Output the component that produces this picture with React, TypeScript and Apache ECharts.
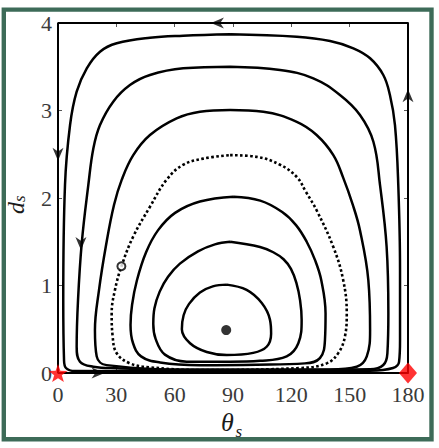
import React, { useEffect, useRef } from "react";
import * as echarts from "echarts";

// axis ticks
const xTicks = [0, 30, 60, 90, 120, 150, 180];
const yTicks = [0, 1, 2, 3, 4];

// heteroclinic boundary (rectangle)
const boundary = [[0, 0], [0, 4], [180, 4], [180, 0], [0, 0]];

// closed orbits, innermost (F) to outermost (A)
const orbitF = [[86.8, 1.01], [97, 0.95], [104.8, 0.8], [109, 0.61], [109.6, 0.45], [107.3, 0.3], [100.4, 0.23], [86.8, 0.205], [76.5, 0.24], [67.9, 0.34], [63.7, 0.5], [64.6, 0.66], [67.4, 0.79], [73, 0.92], [79.6, 0.99], [86.8, 1.01]];
const orbitE = [[88.5, 1.5], [103.9, 1.44], [110.7, 1.38], [116, 1.3], [119.8, 1.19], [122.6, 1.03], [124.5, 0.83], [125.3, 0.61], [123.6, 0.34], [117.6, 0.19], [103.9, 0.14], [88.5, 0.13], [66.2, 0.13], [55, 0.21], [50.2, 0.39], [49, 0.56], [49.6, 0.74], [52.3, 0.93], [56.6, 1.1], [62.7, 1.25], [72, 1.39], [80.7, 1.47], [88.5, 1.5]];
const orbitD = [[90.2, 2.015], [104, 1.97], [115.3, 1.84], [122.4, 1.69], [127.9, 1.5], [132.2, 1.29], [135.4, 1.06], [137.6, 0.68], [137.3, 0.38], [134.7, 0.17], [127, 0.11], [102.2, 0.095], [73, 0.09], [52.5, 0.12], [42.7, 0.19], [38.6, 0.34], [37.3, 0.55], [38.1, 0.78], [40.6, 1.06], [45.3, 1.38], [51.4, 1.63], [60.2, 1.83], [73, 1.96], [90.2, 2.015]];
const dottedOrbit = [[88.5, 2.49], [102.2, 2.47], [114.2, 2.38], [122.8, 2.24], [127.5, 2.07], [133, 1.86], [141.6, 1.44], [146.7, 1.06], [148.5, 0.68], [147.6, 0.42], [144.2, 0.23], [138.2, 0.11], [124.5, 0.057], [73, 0.034], [47.3, 0.065], [37, 0.11], [30.2, 0.225], [28.1, 0.42], [27.6, 0.68], [29.3, 0.95], [32.8, 1.23], [38.7, 1.56], [47.3, 1.9], [55.9, 2.21], [64.4, 2.38], [74.7, 2.45], [88.5, 2.49]];
const orbitC = [[88.5, 3.006], [105.6, 2.986], [122.8, 2.87], [133, 2.72], [141.6, 2.49], [146.7, 2.23], [151.5, 1.93], [155.3, 1.63], [159.6, 1.06], [160.5, 0.49], [158.8, 0.19], [153.6, 0.072], [139.9, 0.04], [73, 0.04], [25, 0.09], [19.9, 0.19], [19, 0.49], [21.1, 0.95], [24.7, 1.46], [28.8, 1.92], [32.8, 2.21], [38.7, 2.49], [47.3, 2.72], [61, 2.91], [73, 2.986], [88.5, 3.006]];
const orbitB = [[88.5, 3.5], [114.2, 3.463], [131.3, 3.368], [145, 3.177], [155.3, 2.949], [162.2, 2.643], [165.6, 2.149], [169, 1.443], [169.9, 0.682], [169.4, 0.225], [167.3, 0.091], [160.5, 0.042], [73, 0.029], [30.2, 0.054], [18.2, 0.072], [11.3, 0.129], [9.6, 0.301], [10.3, 0.834], [12.2, 1.482], [15.6, 2.149], [18.2, 2.568], [21.6, 2.834], [28.4, 3.101], [37, 3.291], [47.3, 3.406], [64.4, 3.482], [88.5, 3.5]];
const orbitA = [[88.5, 3.871], [122.8, 3.843], [139.9, 3.794], [151.9, 3.711], [160.5, 3.597], [167.3, 3.406], [170.7, 3.177], [173.3, 2.834], [175, 2.149], [175.9, 1.177], [175.9, 0.377], [175.4, 0.126], [172.3, 0.057], [160.5, 0.026], [73, 0.019], [8.7, 0.023], [4.1, 0.057], [3.1, 0.149], [2.7, 0.834], [3.6, 2.149], [6.2, 2.834], [9.6, 3.215], [14.8, 3.482], [21.6, 3.672], [30.2, 3.768], [47.3, 3.832], [64.4, 3.855], [88.5, 3.871]];

// special points
const centerPoint = [[86.5, 0.49]];
const initialPoint = [[32.6, 1.22]];
const starPoint = [[0, 0]];
const diamondPoint = [[180, 0]];

// direction arrows
const arrowsDown = [[0, 2.5], [11.8, 1.48]];
const arrowsUp = [[180, 3.17]];
const arrowsLeft = [[82, 4]];
const arrowsRight = [[20.6, 0]];

const SERIF = "'Times New Roman', 'Liberation Serif', 'DejaVu Serif', serif";
const STAR = "path://M0,-10L2.35,-3.24L9.51,-3.09L3.8,1.24L5.88,8.09L0,4.4L-5.88,8.09L-3.8,1.24L-9.51,-3.09L-2.35,-3.24Z";
const ARROW = "path://M0,0L6,14L0,10L-6,14Z";

function orbit(data: number[][], extra: any = {}) {
  return {
    type: "line",
    data,
    showSymbol: false,
    smooth: 0.4,
    lineStyle: { color: "#000", width: 2.5, ...extra },
    silent: true,
    z: 3,
  };
}

function arrows(data: number[][], rot: number) {
  return {
    type: "scatter",
    data,
    symbol: ARROW,
    symbolSize: [11, 13],
    symbolRotate: rot,
    itemStyle: { color: "#000" },
    silent: true,
    z: 5,
  };
}

export default function App() {
  const ref = useRef<HTMLDivElement>(null);
  useEffect(() => {
    if (!ref.current) return;
    const chart = echarts.init(ref.current, null, { renderer: "svg" });
    const axisCommon = {
      type: "value",
      splitLine: { show: false },
      axisLine: { show: true, onZero: false, lineStyle: { color: "#000", width: 1 } },
      axisTick: { show: true, inside: true, length: 4, lineStyle: { color: "#555", width: 1 } },
    };
    const label = { fontFamily: SERIF, fontSize: 22, color: "#3a3a3a" };
    chart.setOption({
      animation: false,
      backgroundColor: "#fff",
      grid: { left: 58, right: 31, top: 23, bottom: 75, containLabel: false },
      xAxis: [
        { ...axisCommon, min: xTicks[0], max: xTicks[xTicks.length - 1], interval: 30, position: "bottom", axisLabel: { ...label, margin: 10 } },
        { ...axisCommon, min: xTicks[0], max: xTicks[xTicks.length - 1], interval: 30, position: "top", axisLabel: { show: false } },
      ],
      yAxis: [
        { ...axisCommon, min: yTicks[0], max: yTicks[yTicks.length - 1], interval: 1, position: "left", axisLabel: { ...label, margin: 6 } },
        { ...axisCommon, min: yTicks[0], max: yTicks[yTicks.length - 1], interval: 1, position: "right", axisLabel: { show: false } },
      ],
      series: [
        { type: "line", data: boundary, showSymbol: false, lineStyle: { color: "#000", width: 2 }, silent: true, z: 4, clip: false },
        orbit(orbitA),
        orbit(orbitB),
        orbit(orbitC),
        orbit(dottedOrbit, { type: [2.6, 2.4], width: 2.6 }),
        orbit(orbitD),
        orbit(orbitE),
        orbit(orbitF),
        arrows(arrowsDown, 180),
        arrows(arrowsUp, 0),
        arrows(arrowsLeft, 90),
        arrows(arrowsRight, -90),
        { type: "scatter", data: centerPoint, symbol: "circle", symbolSize: 10, itemStyle: { color: "#000" }, z: 6, silent: true },
        { type: "scatter", data: initialPoint, symbol: "circle", symbolSize: 8, itemStyle: { color: "#fff", borderColor: "#000", borderWidth: 2 }, z: 6, silent: true },
        { type: "scatter", data: starPoint, symbol: STAR, symbolSize: [19, 18], itemStyle: { color: "#ff0000" }, z: 7, silent: true, clip: false },
        { type: "scatter", data: diamondPoint, symbol: "diamond", symbolSize: [18, 21], itemStyle: { color: "#ff0000" }, z: 7, silent: true, clip: false },
      ],
      graphic: [
        { type: "rect", shape: { x: 3.8, y: 9.6, width: 427.7, height: 429.7 }, style: { fill: "none", stroke: "#3d6b58", lineWidth: 4.4 }, silent: true },
        { type: "text", x: 221, y: 409, style: { text: "θ", fontFamily: SERIF, fontSize: 26, fontStyle: "italic", fill: "#1a1a1a" }, silent: true },
        { type: "text", x: 235.5, y: 423, style: { text: "s", fontFamily: SERIF, fontSize: 17, fontStyle: "italic", fill: "#1a1a1a" }, silent: true },
        {
          type: "text",
          x: 4,
          y: 214,
          rotation: Math.PI / 2,
          style: {
            text: "{d|d}{s|s}",
            fill: "#1a1a1a",
            rich: {
              d: { fontFamily: SERIF, fontSize: 24, fontStyle: "italic", lineHeight: 24, verticalAlign: "top", padding: [0, 0, 3, 0], fill: "#1a1a1a" },
              s: { fontFamily: SERIF, fontSize: 17, fontStyle: "italic", lineHeight: 17, verticalAlign: "bottom", fill: "#1a1a1a" },
            },
          },
          silent: true,
        },
      ],
    });
    return () => chart.dispose();
  }, []);
  return <div ref={ref} style={{ position: "fixed", left: 0, top: 0, width: 439, height: 448, background: "#fff" }} />;
}
